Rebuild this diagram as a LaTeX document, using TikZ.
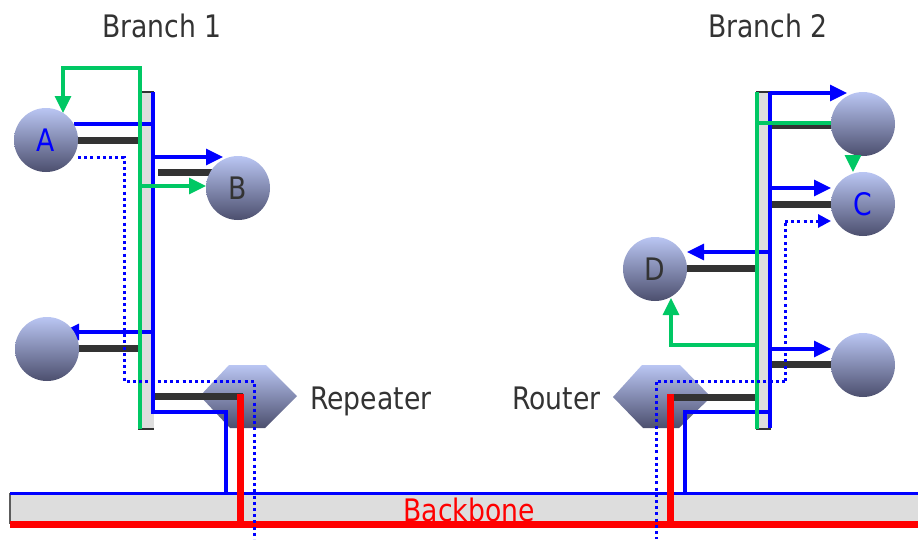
\documentclass[tikz,border=0pt]{standalone}
\usepackage{fontspec}
\newfontfamily\labfont[FakeStretch=0.86]{DejaVu Sans}
\usetikzlibrary{arrows.meta}
\definecolor{netblue}{HTML}{0000FF}
\definecolor{netgreen}{HTML}{00C864}
\definecolor{netred}{HTML}{FF0000}
\definecolor{netdark}{HTML}{333333}
\definecolor{bargray}{HTML}{DDDDDD}
\definecolor{hosttop}{HTML}{BAC6F3}
\definecolor{hostbot}{HTML}{4C4F6E}
\tikzset{
  host/.style={circle,minimum size=64pt,inner sep=0pt,top color=hosttop,bottom color=hostbot,draw=none,
    font=\labfont\fontsize{31}{31}\selectfont,text=netdark},
  lab/.style={font=\labfont\fontsize{31}{31}\selectfont,text=netdark,inner sep=0pt},
  bluewire/.style={draw=netblue,line width=3.3pt},
  greenwire/.style={draw=netgreen,line width=3.3pt},
  blackwire/.style={draw=netdark,line width=7pt},
  redwire/.style={draw=netred,line width=7pt},
  dotwire/.style={draw=netblue,line width=3pt,dash pattern=on 3pt off 3.2pt},
  tip/.style={-{Triangle[length=17pt,width=16pt]}},
  smalltip/.style={-{Triangle[length=13pt,width=13pt]}},
  barbox/.style={fill=bargray,draw=none},
  hexbox/.style={top color=hosttop,bottom color=hostbot,draw=none}
}
\begin{document}
\begin{tikzpicture}[x=1pt,y=-1pt]
\useasboundingbox (0,0) rectangle (918,539);
% backbone
\path[barbox] (10,493) rectangle (918,524);
\draw[draw=netdark!80,line width=2pt] (10,493) -- (10,524);
\draw[bluewire] (10,493.5) -- (918,493.5);
\draw[redwire] (10,524.5) -- (918,524.5);
% hexagons
\path[hexbox] (200,396) -- (229,365) -- (266,365) -- (297,396) -- (265,428) -- (230,428) -- cycle;
\path[hexbox] (613,397) -- (642,365) -- (680,365) -- (711,397) -- (679,428) -- (643,428) -- cycle;
\coordinate (rep) at (248,396);
\coordinate (rout) at (662,397);
% bars
\path[barbox] (138,92) rectangle (154,429);
\draw[netdark,line width=2pt] (138,92) -- (154,92) (138,429) -- (154,429);
\path[barbox] (756,92) rectangle (771,429);
\draw[netdark,line width=2pt] (756,92) -- (771,92) (756,429) -- (771,429);
% black wires
\draw[blackwire] (78,140) -- (138,140);
\draw[blackwire] (158,172) -- (214,172);
\draw[blackwire] (79,348) -- (138,348);
\draw[blackwire] (155,396) -- (243,396);
\draw[blackwire] (771,125) -- (833,125);
\draw[blackwire] (771,204) -- (833,204);
\draw[blackwire] (686,268) -- (756,268);
\draw[blackwire] (771,364) -- (833,364);
\draw[blackwire] (667,397) -- (756,397);
% blue wires left
\draw[bluewire] (153,92) -- (153,412) -- (226,412) -- (226,493);
\draw[bluewire] (74,124) -- (153,124);
\draw[bluewire,tip] (153,157) -- (223,157);
\draw[bluewire,tip] (153,332) -- (62,332);
% blue wires right
\draw[bluewire] (770,92) -- (770,428);
\draw[bluewire] (770,412) -- (685,412) -- (685,493);
\draw[bluewire,tip] (770,93) -- (847,93);
\draw[bluewire,tip] (770,188) -- (831,188);
\draw[bluewire,tip] (770,252) -- (687,252);
\draw[bluewire,tip] (770,349) -- (831,349);
% red verticals
\draw[redwire] (240,393.5) -- (240,524);
\draw[redwire] (670,394) -- (670,524);
% green wires
\draw[greenwire,tip] (140,429) -- (140,68) -- (63,68) -- (63,113);
\draw[greenwire,tip] (140,186) -- (206,186);
\draw[greenwire] (757,92) -- (757,429);
\draw[greenwire] (757,123) -- (831,123);
\draw[greenwire,tip] (757,345) -- (671,345) -- (671,298);
% dotted wires
\draw[dotwire] (78,157) -- (124,157) -- (124,381) -- (254,381) -- (254,539);
\draw[dotwire] (785,381) -- (785,221);
\draw[dotwire,smalltip] (785,221) -- (831,221);
\draw[dotwire] (785,381) -- (656,381) -- (656,539);
% hosts
\node[host,text=netblue] (A) at (46,140) {A};
\node[host] (B) at (238,188) {B};
\node[host] (L) at (47,349) {};
\node[host] (U) at (863,124) {};
\node[host,text=netblue] (C) at (863,204) {C};
\node[host] (D) at (655,269) {D};
\node[host] (R) at (863,365) {};
\draw[draw=netgreen,line width=3pt,tip] (U.south) ++(-10,-1) coordinate (us) -- (853,172);
% labels
\node[lab,anchor=base] (b1) at (162,37) {Branch 1};
\node[lab,anchor=base] (b2) at (768,37) {Branch 2};
\node[lab,anchor=base west] (repl) at (310,409) {Repeater};
\node[lab,anchor=base west] (routl) at (512,409) {Router};
\node[lab,anchor=base,text=netred] (bb) at (469,521) {Backbone};
\end{tikzpicture}
\end{document}
